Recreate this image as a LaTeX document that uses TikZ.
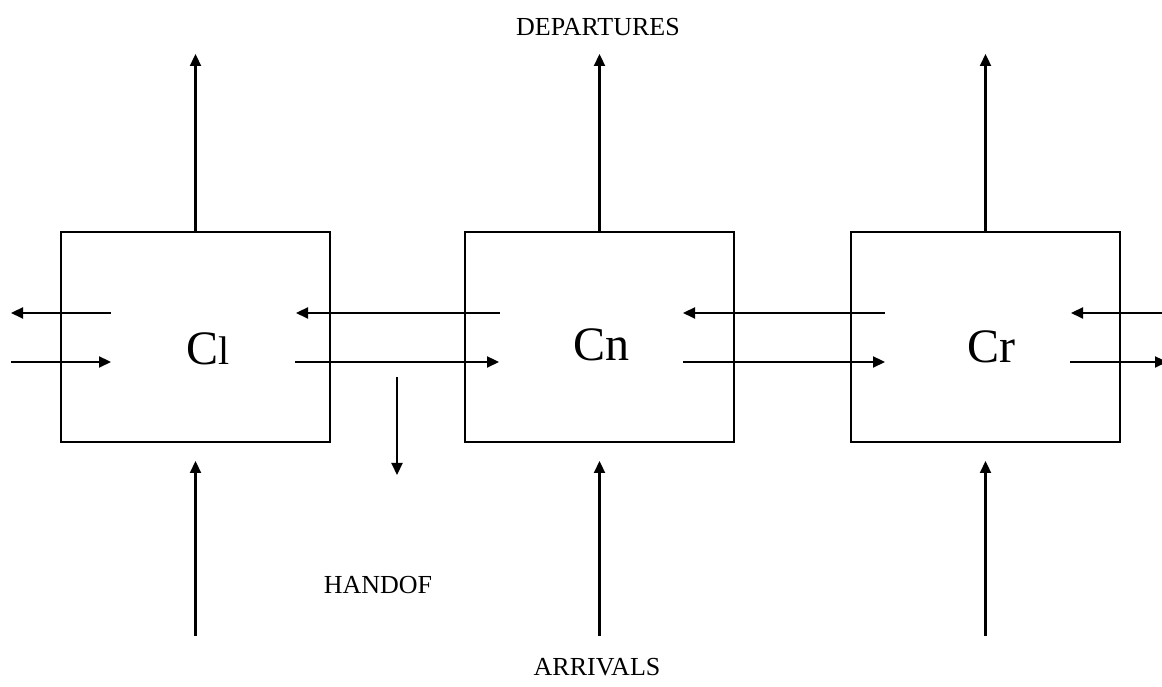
\documentclass[tikz,border=0pt]{standalone}
\usepackage{fontspec}
\setmainfont{Liberation Serif}
\usetikzlibrary{arrows.meta,positioning,calc}

\begin{document}
\begin{tikzpicture}[
   x=1pt, y=1pt,
   cell/.style={draw, line width=2pt, minimum width=269pt, minimum height=210pt, inner sep=0pt},
   cname/.style={font=\fontsize{48}{48}\selectfont, inner sep=0pt},
   lab/.style={font=\fontsize{26}{26}\selectfont, inner sep=0pt},
   ar/.style={-{Triangle[length=12pt, width=11pt]}, line width=2.2pt}
]
\useasboundingbox (0,0) rectangle (1162,687);
\node[cell] (cl) at (195.5,350) {};
\node[cell, right=133pt of cl] (cn) {};
\node[cell, right=115pt of cn] (cr) {};
\node[cname] (lcl) at ($(cl.center)+(13,-12)$) {C{\fontsize{40}{40}\selectfont l}};
\node[cname] (lcn) at ($(cn.center)+(2,-8)$) {Cn};
\node[cname] (lcr) at ($(cr.center)+(6,-10)$) {Cr};

\node[lab] (dep) at (598,660) {DEPARTURES};
\node[lab] (hof) at (378,102) {HANDOF};
\node[lab] (arr) at (597,20) {ARRIVALS};

% departures and arrivals
\foreach \c in {cl,cn,cr}{
  \draw[ar] (\c.north) -- ++(0,177);
  \draw[ar] ($(\c.south)+(0,-193)$) -- ++(0,175);
}

% handoffs between cells
\draw[ar] ($(cl.west)+(51,24)$) -- ($(cl.west)+(-49,24)$);
\draw[ar] ($(cl.west)+(-49,-25)$) -- ($(cl.west)+(51,-25)$);
\draw[ar] ($(cn.west)+(36,24)$) -- ($(cl.east)+(-35,24)$);
\draw[ar] ($(cl.east)+(-36,-25)$) -- ($(cn.west)+(35,-25)$);
\draw[ar] ($(cr.west)+(35,24)$) -- ($(cn.east)+(-52,24)$);
\draw[ar] ($(cn.east)+(-52,-25)$) -- ($(cr.west)+(35,-25)$);
\draw[ar] ($(cr.east)+(46,24)$) -- ($(cr.east)+(-50,24)$);
\draw[ar] ($(cr.east)+(-51,-25)$) -- ($(cr.east)+(46,-25)$);
\draw[ar] ($(cl.east)+(66,-40)$) -- ++(0,-98);
\end{tikzpicture}
\end{document}
